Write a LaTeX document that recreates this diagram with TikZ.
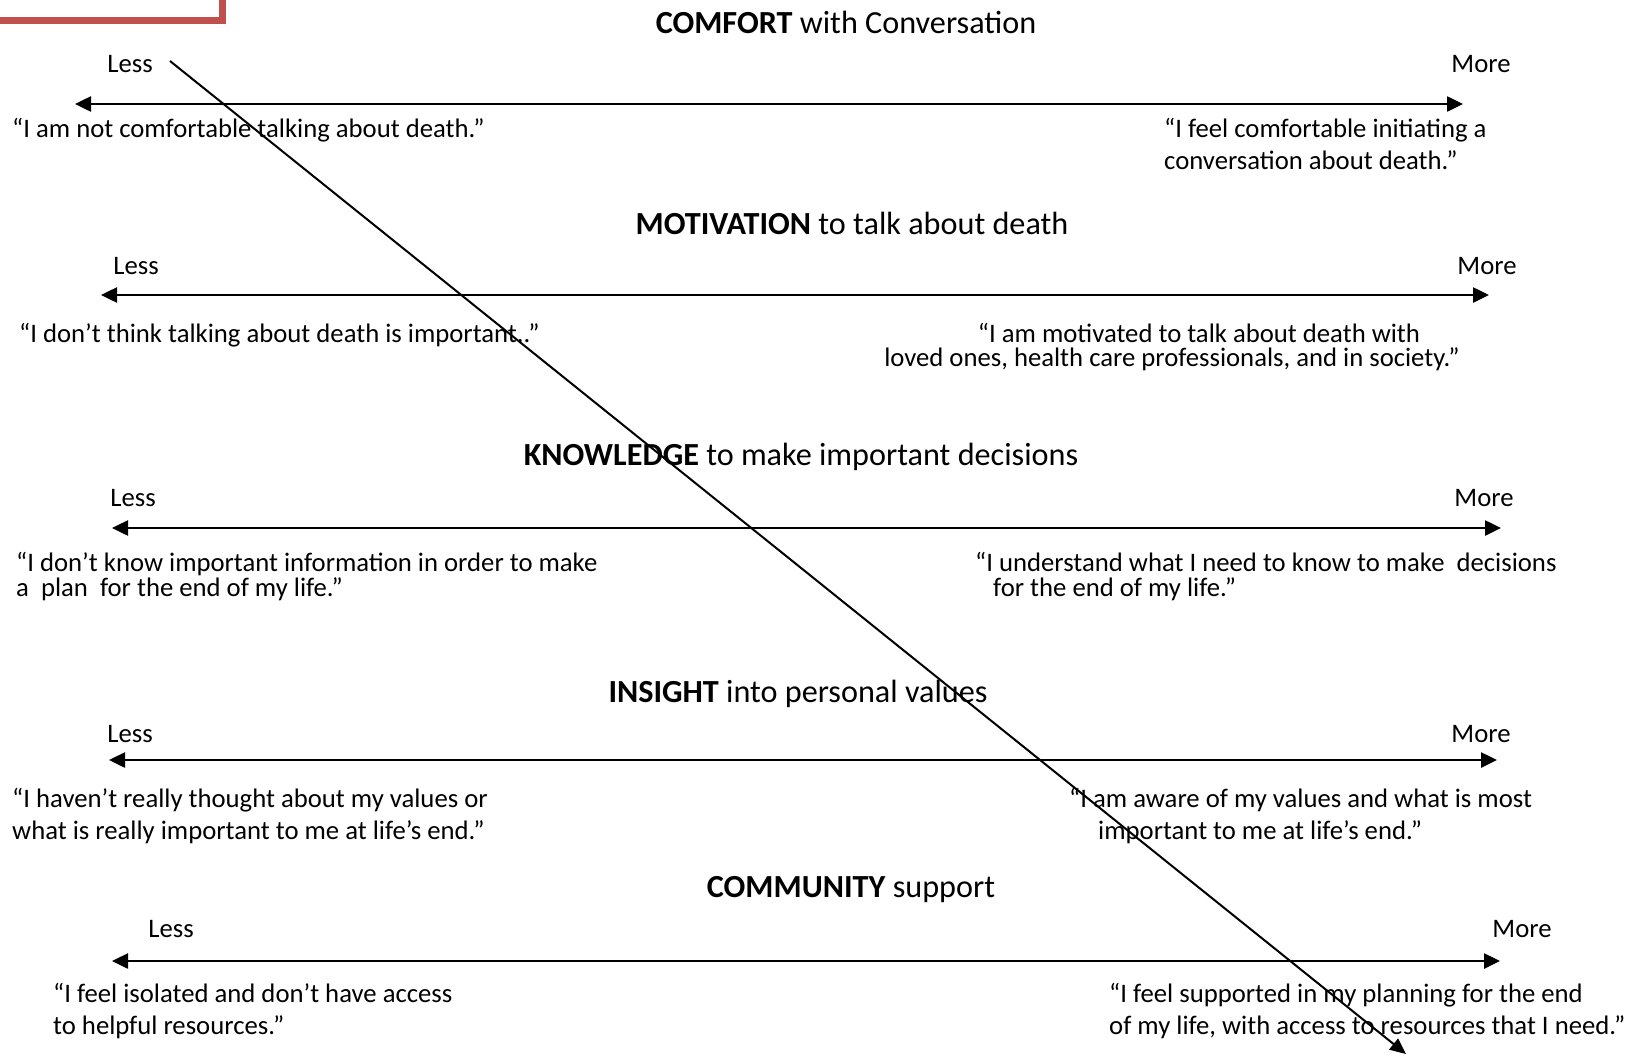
\documentclass[tikz,border=0pt]{standalone}
\usepackage{fontspec}
\setmainfont{Carlito}
\usetikzlibrary{arrows.meta}
\definecolor{boxred}{RGB}{192,80,77}
\begin{document}
\begin{tikzpicture}[x=1pt,y=-1pt,
  quote/.style={anchor=base west,inner sep=0pt,font=\fontsize{26.7}{30}\selectfont},
  endlbl/.style={anchor=base,inner sep=0pt,font=\fontsize{26.7}{30}\selectfont},
  ttl/.style={anchor=base,inner sep=0pt,font=\fontsize{32.2}{36}\selectfont},
  axis/.style={line width=2.5pt,{Triangle[length=16pt,width=15pt]}-{Triangle[length=16pt,width=15pt]}},
  diag/.style={line width=2pt,-{Triangle[length=16pt,width=14pt]}}]
\useasboundingbox (0,0) rectangle (1627,1055);
\draw[boxred,line width=7pt] (-20,-20) rectangle (222,20);
% Row 1
\node[ttl] (t1) at (846,33) {\textbf{COMFORT} with Conversation};
\node[endlbl] (l1) at (130,72.5) {Less};
\node[endlbl] (m1) at (1481,72.5) {More};
\coordinate (a1l) at (75,104);
\coordinate (a1r) at (1463,104);
\draw[axis] (a1l) -- (a1r);
\node[quote] (q1a) at (12,137.5) {“I am not comfortable talking about death.”};
\node[quote] (q1b) at (1164,137.5) {“I feel comfortable initiating a};
\node[quote] (q1c) at (1164,169.5) {conversation about death.”};
% Row 2
\node[ttl] (t2) at (852,234) {\textbf{MOTIVATION} to talk about death};
\node[endlbl] (l2) at (136,274.5) {Less};
\node[endlbl] (m2) at (1487,274.5) {More};
\coordinate (a2l) at (101,295);
\coordinate (a2r) at (1489,295);
\draw[axis] (a2l) -- (a2r);
\node[quote] (q2a) at (19,342.5) {“I don’t think talking about death is important..”};
\node[quote,anchor=base] (q2b) at (1199,342.5) {“I am motivated to talk about death with};
\node[quote,anchor=base] (q2c) at (1172,366.5) {loved ones, health care professionals, and in society.”};
% Row 3
\node[ttl] (t3) at (801,465) {\textbf{KNOWLEDGE} to make important decisions};
\node[endlbl] (l3) at (133,506.5) {Less};
\node[endlbl] (m3) at (1484,506.5) {More};
\coordinate (a3l) at (112,528);
\coordinate (a3r) at (1501,528);
\draw[axis] (a3l) -- (a3r);
\node[quote] (q3a) at (16,571.5) {“I don’t know important information in order to make};
\node[quote] (q3b) at (16,596.5) {a\ \ plan\ \ for the end of my life.”};
\node[quote] (q3c) at (975,571.5) {“I understand what I need to know to make\ \ decisions};
\node[quote] (q3d) at (993,596.5) {for the end of my life.”};
% Row 4
\node[ttl] (t4) at (798,702) {\textbf{INSIGHT} into personal values};
\node[endlbl] (l4) at (130,742.5) {Less};
\node[endlbl] (m4) at (1481,742.5) {More};
\coordinate (a4l) at (109,760);
\coordinate (a4r) at (1497,760);
\draw[axis] (a4l) -- (a4r);
\node[quote] (q4a) at (12,807.5) {“I haven’t really thought about my values or};
\node[quote] (q4b) at (12,839.5) {what is really important to me at life’s end.”};
\node[quote] (q4c) at (1069,807.5) {“I am aware of my values and what is most};
\node[quote] (q4d) at (1098,839.5) {important to me at life’s end.”};
% Row 5
\node[ttl] (t5) at (851,897) {\textbf{COMMUNITY} support};
\node[endlbl] (l5) at (171,937.5) {Less};
\node[endlbl] (m5) at (1522,937.5) {More};
\coordinate (a5l) at (112,961);
\coordinate (a5r) at (1500,961);
\draw[axis] (a5l) -- (a5r);
\node[quote] (q5a) at (53,1002.5) {“I feel isolated and don’t have access};
\node[quote] (q5b) at (53,1034.5) {to helpful resources.”};
\node[quote] (q5c) at (1109,1002.5) {“I feel supported in my planning for the end};
\node[quote] (q5d) at (1109,1034.5) {of my life, with access to resources that I need.”};
% Diagonal
\coordinate (ds) at (170,61);
\coordinate (de) at (1406,1054);
\draw[diag] (ds) -- (de);
\end{tikzpicture}
\end{document}
